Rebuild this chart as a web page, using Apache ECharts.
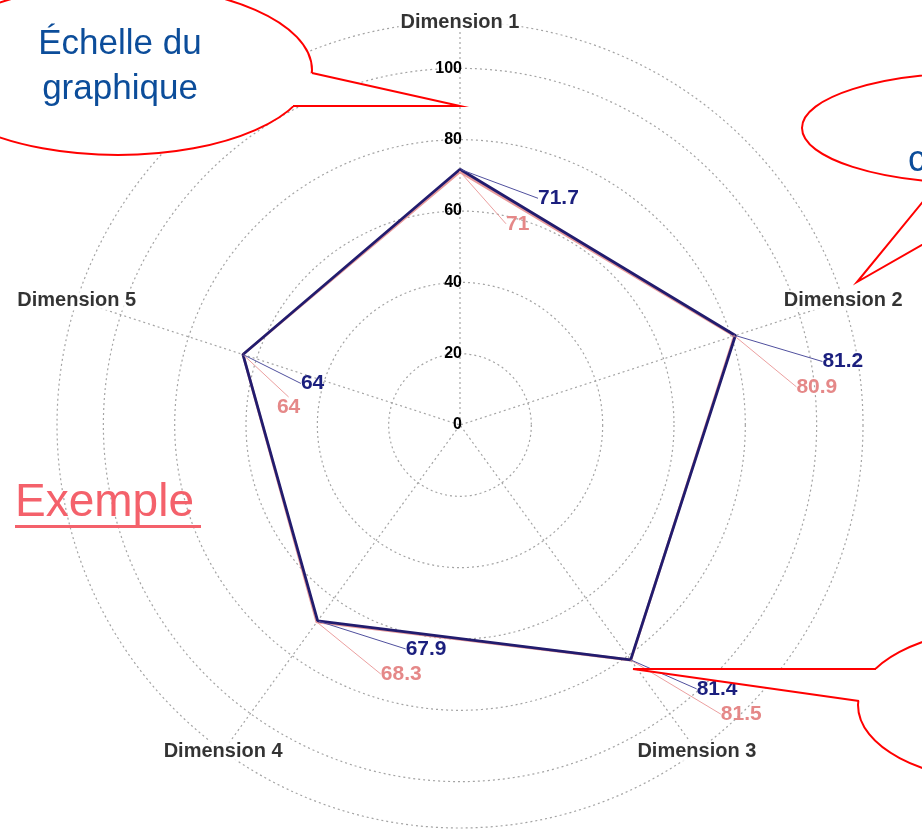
<!DOCTYPE html>
<html>
<head>
<meta charset="utf-8">
<script src="https://cdn.jsdelivr.net/npm/echarts@6/dist/echarts.min.js"></script>
<style>
html, body { margin: 0; padding: 0; background: #fff; }
#radarChart { width: 922px; height: 836px; }
</style>
</head>
<body>
<div id="radarChart"></div>
<script>
var dimensionNames = ['Dimension 1', 'Dimension 2', 'Dimension 3', 'Dimension 4', 'Dimension 5'];
var valuesBlue = [71.7, 81.2, 81.4, 67.9, 64];
var valuesPink = [71, 80.9, 81.5, 68.3, 64];
var scaleStep = 20;
var scaleMax = 113;
var scaleLabelMax = 100;

// label offsets from each vertex (px)
var blueLabelOffsets = [[78, 29], [87, 26], [66, 29], [88, 28], [58, 29]];
var pinkLabelOffsets = [[46, 52], [62, 51], [90, 54], [64, 52], [34, 53]];

var fontName = '"Liberation Sans", Arial, sans-serif';
var navy = '#221c6e';
var pink = '#e89a9a';
var gridStyle = { color : '#a4a4a4', width : 1.2, type : [2, 3] };

// polygon: one point per dimension, then back to the first one
var buildRing = function(values) {
	var out = [];
	for (var i = 0; i < values.length; i++) {
		out.push([values[i], i]);
	}
	out.push({
		value : [values[0], values.length],
		symbol : 'none',
		label : { show : false }
	});
	return out;
};

var ringSeries = function(name, values, lineColor, textColor, guideColor, offsets, width) {
	return {
		name : name,
		type : 'line',
		coordinateSystem : 'polar',
		data : buildRing(values),
		symbol : 'circle',
		symbolSize : 2,
		itemStyle : { color : lineColor },
		lineStyle : { color : lineColor, width : width },
		label : {
			show : true,
			position : 'right',
			distance : 0,
			color : textColor,
			fontFamily : fontName,
			fontWeight : 'bold',
			fontSize : 21,
			formatter : function(p) {
				return p.value[0];
			}
		},
		labelLine : {
			show : true,
			lineStyle : { color : guideColor, width : 1 }
		},
		labelLayout : function(params) {
			var off = offsets[params.dataIndex];
			if (!off) {
				return {};
			}
			return { dx : off[0] - 1, dy : off[1] };
		},
		silent : true,
		animation : false
	};
};

var dimensionData = [];
for (var i = 0; i < dimensionNames.length; i++) {
	dimensionData.push({ value : [scaleMax, i], name : dimensionNames[i] });
}

var redLine = { stroke : '#ff0000', lineWidth : 2, fill : null };

var option = {
	backgroundColor : '#fff',
	animation : false,
	polar : {
		center : [460, 425],
		radius : 403
	},
	angleAxis : {
		type : 'value',
		min : 0,
		max : dimensionNames.length,
		interval : 1,
		startAngle : 90,
		clockwise : true,
		axisLine : { show : false },
		axisTick : { show : false },
		axisLabel : { show : false },
		splitLine : { show : true, lineStyle : gridStyle }
	},
	radiusAxis : {
		type : 'value',
		min : 0,
		max : scaleMax,
		interval : scaleStep,
		axisLine : { show : false },
		axisTick : { show : false },
		axisLabel : {
			margin : -2,
			color : '#000',
			fontFamily : fontName,
			fontWeight : 'bold',
			fontSize : 16,
			showMaxLabel : false,
			formatter : function(v) {
				return v > scaleLabelMax ? '' : v;
			}
		},
		splitLine : { show : true, lineStyle : gridStyle }
	},
	series : [
		ringSeries('pink', valuesPink, pink, '#e58888', '#eca0a0', pinkLabelOffsets, 2.6),
		ringSeries('navy', valuesBlue, navy, '#1b1f7e', '#50509e', blueLabelOffsets, 2.8),
		{
			type : 'scatter',
			coordinateSystem : 'polar',
			data : dimensionData,
			symbolSize : 1,
			itemStyle : { color : 'rgba(0,0,0,0)' },
			clip : false,
			silent : true,
			label : {
				show : true,
				position : 'inside',
				formatter : '{b}',
				color : '#000',
				fontFamily : fontName,
				fontWeight : 'bold',
				fontSize : 20,
				backgroundColor : '#fff',
				padding : [0, 2]
			},
			z : 3
		}
	],
	graphic : [
		// bubble "Échelle du graphique"
		{ type : 'ellipse', z : 100, shape : { cx : 118, cy : 70, rx : 194, ry : 85 },
			style : { fill : '#fff', stroke : '#ff0000', lineWidth : 2 } },
		{ type : 'polygon', z : 101, shape : { points : [[312, 73], [460, 106], [293, 106], [250, 90]] },
			style : { fill : '#fff' } },
		{ type : 'polyline', z : 102, shape : { points : [[312, 73], [460, 106], [293, 106]] },
			style : redLine },
		{ type : 'text', z : 103, style : {
			text : 'Échelle du\ngraphique', x : 120, y : 67, align : 'center', verticalAlign : 'middle',
			lineHeight : 45, fontSize : 35, fontFamily : fontName, fill : '#0c4d9a' } },

		// bubble top right (cut by the frame)
		{ type : 'ellipse', z : 100, shape : { cx : 975, cy : 128, rx : 173, ry : 55 },
			style : { fill : '#fff', stroke : '#ff0000', lineWidth : 2 } },
		{ type : 'polygon', z : 101, shape : { points : [[939, 182], [857, 282], [1037, 179], [975, 150]] },
			style : { fill : '#fff' } },
		{ type : 'polyline', z : 102, shape : { points : [[939, 182], [857, 282], [1037, 179]] },
			style : redLine },
		{ type : 'text', z : 103, style : {
			text : 'c', x : 908, y : 161, align : 'left', verticalAlign : 'middle',
			fontSize : 36, fontFamily : fontName, fill : '#0c4d9a' } },

		// bubble bottom right
		{ type : 'ellipse', z : 100, shape : { cx : 1000, cy : 705, rx : 142, ry : 75 },
			style : { fill : '#fff', stroke : '#ff0000', lineWidth : 2 } },
		{ type : 'polygon', z : 101, shape : { points : [[876, 669], [633, 669], [859, 701], [900, 690]] },
			style : { fill : '#fff' } },
		{ type : 'polyline', z : 102, shape : { points : [[876, 669], [633, 669], [859, 701]] },
			style : redLine },

		// "Exemple"
		{ type : 'text', z : 103, style : {
			text : 'Exemple', x : 15, y : 503, align : 'left', verticalAlign : 'middle',
			fontSize : 46, fontFamily : fontName, fill : '#f4616b' } },
		{ type : 'rect', z : 103, shape : { x : 15, y : 525, width : 186, height : 3 },
			style : { fill : '#f4616b' } }
	]
};

var radarChart = echarts.init(document.getElementById('radarChart'));
radarChart.setOption(option);
</script>
</body>
</html>
